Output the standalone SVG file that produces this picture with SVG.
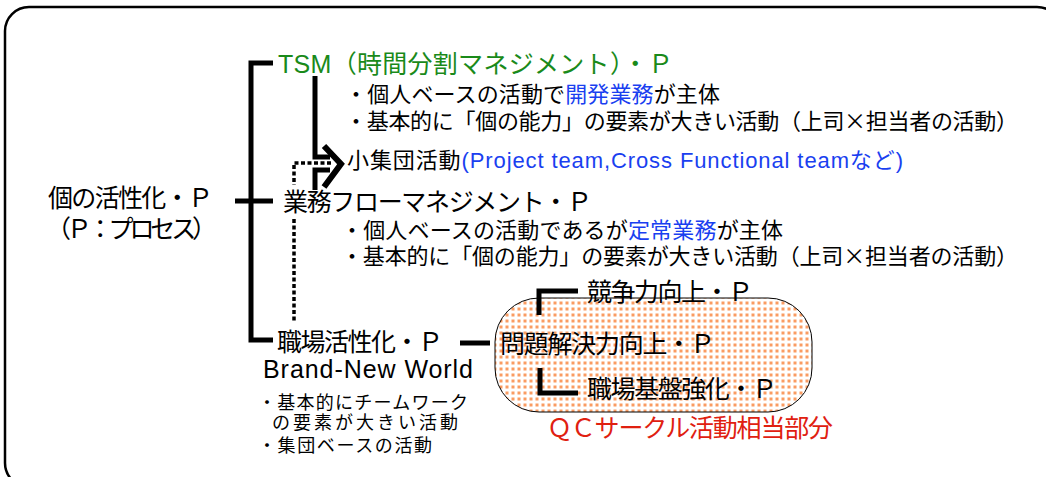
<svg xmlns="http://www.w3.org/2000/svg" width="1046" height="477" viewBox="0 0 1046 477">
<defs>
<pattern id="dots" width="6" height="6" patternUnits="userSpaceOnUse">
<rect width="6" height="6" fill="#ffffff"/>
<rect x="1.5" y="1.5" width="3" height="3" fill="#fa9c62"/>
</pattern>
<style>
text{font-family:"Liberation Sans","Noto Sans CJK JP",sans-serif;fill:#000}
.big{font-size:25px}
.mid{font-size:22px}
.sm{font-size:18px}
.green{fill:#1a8a1a}
.blue{fill:#1a3ff0}
.red{fill:#e02010}
.cjk{font-family:"Noto Sans CJK JP",sans-serif}
.ln{fill:none;stroke:#000;stroke-width:5}
.dash{fill:none;stroke:#000;stroke-width:3.5;stroke-dasharray:4 2.5}
</style>
</defs>
<rect x="5" y="7" width="1056" height="480" rx="24" fill="#fff" stroke="#000" stroke-width="2.5"/>
<g id="qc-area">
<rect x="495" y="298" width="317" height="114" rx="44" fill="url(#dots)" stroke="#000" stroke-width="1"/>
</g>
<g id="connectors">
<path class="ln" d="M273 63 H251 V340 H273"/>
<path class="ln" d="M235 201 H273"/>
<path class="ln" d="M315 76 V157 H330"/>
<path class="ln" d="M315 198 V170 H330"/>
<path fill="none" stroke="#000" stroke-width="6" d="M324 146 L341 164 L324 187"/>
<path class="dash" d="M331 163 H294 V185"/>
<path class="dash" d="M294 219 V322"/>
<path class="ln" d="M460 343 H490"/>
<path class="ln" d="M578 291 H539 V315"/>
<path class="ln" d="M578 393 H540 V368"/>
</g>
<g id="root">
<text class="big" x="48" y="207" textLength="165" lengthAdjust="spacing">個の活性化・Ｐ</text>
<text class="big" x="46" y="238" textLength="171" lengthAdjust="spacing">（Ｐ：プロセス）</text>
</g>
<g id="tsm">
<text class="big green" x="278" y="73" textLength="395" lengthAdjust="spacing">TSM（時間分割マネジメント）・Ｐ</text>
<text class="mid" x="345" y="102" textLength="375" lengthAdjust="spacing">・個人ベースの活動で<tspan class="blue">開発業務</tspan>が主体</text>
<text class="mid" x="345" y="129" textLength="673" lengthAdjust="spacing">・基本的に「個の能力」の要素が大きい活動（上司<tspan class="cjk">×</tspan>担当者の活動）</text>
</g>
<g id="small-group">
<text class="mid" x="347" y="168" textLength="556" lengthAdjust="spacing">小集団活動<tspan class="blue">(Project team,Cross Functional teamなど)</tspan></text>
</g>
<g id="gyomu">
<rect x="282" y="190" width="312" height="27" fill="#fff"/>
<text class="big" x="283" y="211" textLength="309" lengthAdjust="spacing">業務フローマネジメント・Ｐ</text>
<text class="mid" x="341" y="238" textLength="442" lengthAdjust="spacing">・個人ベースの活動であるが<tspan class="blue">定常業務</tspan>が主体</text>
<text class="mid" x="341" y="264" textLength="677" lengthAdjust="spacing">・基本的に「個の能力」の要素が大きい活動（上司<tspan class="cjk">×</tspan>担当者の活動）</text>
</g>
<g id="shokuba">
<text class="big" x="277" y="351" textLength="166" lengthAdjust="spacing">職場活性化・Ｐ</text>
<text class="big" x="263" y="378" textLength="210" lengthAdjust="spacing">Brand-New World</text>
<text class="sm" x="258" y="409" textLength="210" lengthAdjust="spacing">・基本的にチームワーク</text>
<text class="sm" x="272" y="429" textLength="186" lengthAdjust="spacing">の要素が大きい活動</text>
<text class="sm" x="258" y="452" textLength="174" lengthAdjust="spacing">・集団ベースの活動</text>
</g>
<g id="qc">
<text class="big" x="587" y="301" textLength="166" lengthAdjust="spacing">競争力向上・Ｐ</text>
<text class="big" x="500" y="353" textLength="215" lengthAdjust="spacing">問題解決力向上・Ｐ</text>
<text class="big" x="587" y="398" textLength="190" lengthAdjust="spacing">職場基盤強化・Ｐ</text>
<text class="big red" x="547" y="437" textLength="286" lengthAdjust="spacing">ＱＣサークル活動相当部分</text>
</g>
</svg>
